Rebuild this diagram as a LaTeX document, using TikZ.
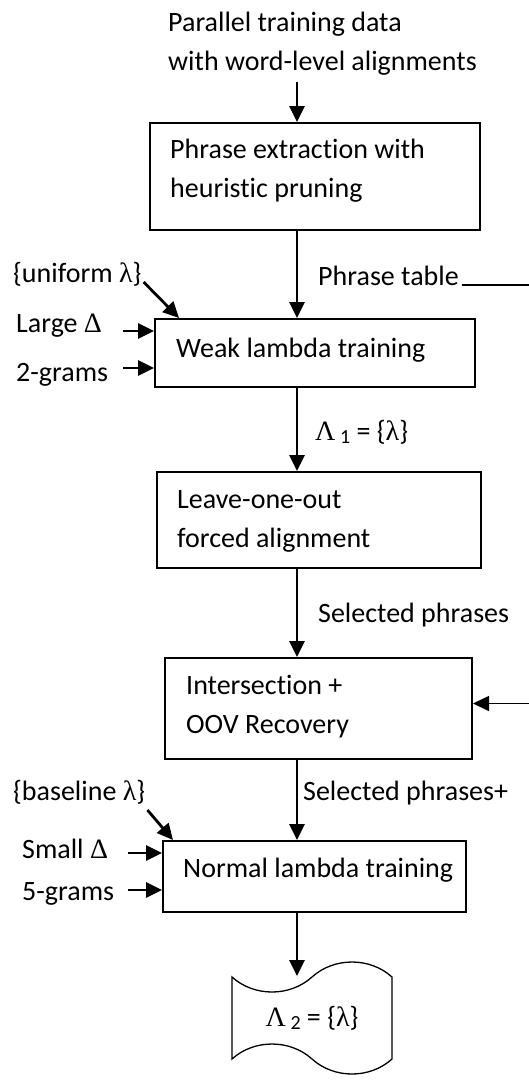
\documentclass[tikz,border=0pt]{standalone}
\usepackage{fontspec}
\setmainfont{Carlito}[RawFeature={-liga;-clig;-calt}]
\newfontfamily\grk{Liberation Serif}
\usetikzlibrary{arrows.meta,shapes.symbols,positioning}

\newcommand{\lam}{{\grk λ}}
\newcommand{\sub}[1]{\,{\fontsize{20}{20}\selectfont\raisebox{-3pt}{#1}}}

\begin{document}
\begin{tikzpicture}[x=1pt,y=-1pt,
    every node/.style={font=\fontsize{28}{39}\selectfont},
    txt/.style={inner sep=0pt,anchor=base west,align=left},
    stepbox/.style={draw,line width=2pt,inner sep=0pt},
    flow/.style={line width=2.8pt,-{Triangle[length=16pt,width=15pt]}},
    result/.style={draw,line width=1.3pt,tape,tape bend top=in and out,
      tape bend bottom=out and in,tape bend height=30pt,
      minimum width=160pt,minimum height=112pt,inner sep=0pt}]
  \useasboundingbox (0,0) rectangle (529,1088);
  \coordinate (spine) at (297,0);

  % the steps
  \node[stepbox,minimum width=330pt,minimum height=107pt] (extract) at (315,176.5) {};
  \node[stepbox,minimum width=320pt,minimum height=68pt] (weak) at (315,353) {};
  \node[stepbox,minimum width=324pt,minimum height=96pt] (leave) at (319,520) {};
  \node[stepbox,minimum width=307pt,minimum height=101pt] (merge) at (318.5,708.5) {};
  \node[stepbox,minimum width=303pt,minimum height=71pt] (normal) at (314.5,876.5) {};
  \node[result] (lambdaout) at (312,1018) {{\grk Λ}\sub{2} = \{\lam\}};

  % multi-line texts sit on their last baseline
  \node[txt] (extract text) at (170,197) {Phrase extraction with\\heuristic pruning};
  \node[txt] (weak text) at (176,357) {Weak lambda training};
  \node[txt] (leave text) at (177,547) {Leave-one-out\\forced alignment};
  \node[txt] (merge text) at (186,733) {Intersection +\\OOV Recovery};
  \node[txt] (normal text) at (183,877) {Normal lambda training};

  % inputs and labels
  \node[txt] (data) at (168,70) {Parallel training data\\with word-level alignments};
  \node[txt] (ptable) at (318,285) {Phrase table};
  \node[txt] (uniform) at (13,282) {\{uniform \lam\}};
  \node[txt] (large) at (16,332) {Large {\grk Δ}};
  \node[txt] (bigram) at (16,381) {2-grams};
  \node[txt] (lambda one) at (315,440) {{\grk Λ}\sub{1} = \{\lam\}};
  \node[txt] (selected) at (318,622) {Selected phrases};
  \node[txt] (selected plus) at (303,800) {Selected phrases+};
  \node[txt] (baseline) at (13,800) {\{baseline \lam\}};
  \node[txt] (small) at (22,858) {Small {\grk Δ}};
  \node[txt] (fivegram) at (22,900) {5-grams};

  \coordinate (large in) at (123,331);
  \coordinate (bigram in) at (123,368);
  \coordinate (small in) at (128,853);
  \coordinate (fivegram in) at (128,890);

  % main flow
  \draw[flow] ([yshift=-7pt]data.south -| spine) -- (extract.north -| spine);
  \draw[flow] (extract.south -| spine) -- (weak.north -| spine);
  \draw[flow] (weak.south -| spine) -- (leave.north -| spine);
  \draw[flow] (leave.south -| spine) -- (merge.north -| spine);
  \draw[flow] (merge.south -| spine) -- (normal.north -| spine);
  \draw[flow] (normal.south -| spine) -- (lambdaout.north -| spine);
  \draw[flow,line width=1.6pt] ([xshift=3pt]ptable.base east) -- ++(100,0) |- ([yshift=5pt]merge.east);

  % side inputs
  \draw[flow] ([xshift=2pt]uniform.base east) -- ([xshift=25pt]weak.north west);
  \draw[flow] (large in) -- (large in -| weak.west);
  \draw[flow] (bigram in) -- (bigram in -| weak.west);
  \draw[flow] ([shift={(2pt,-10pt)}]baseline.base east) -- ([xshift=11pt]normal.north west);
  \draw[flow] (small in) -- (small in -| normal.west);
  \draw[flow] (fivegram in) -- (fivegram in -| normal.west);
\end{tikzpicture}
\end{document}
